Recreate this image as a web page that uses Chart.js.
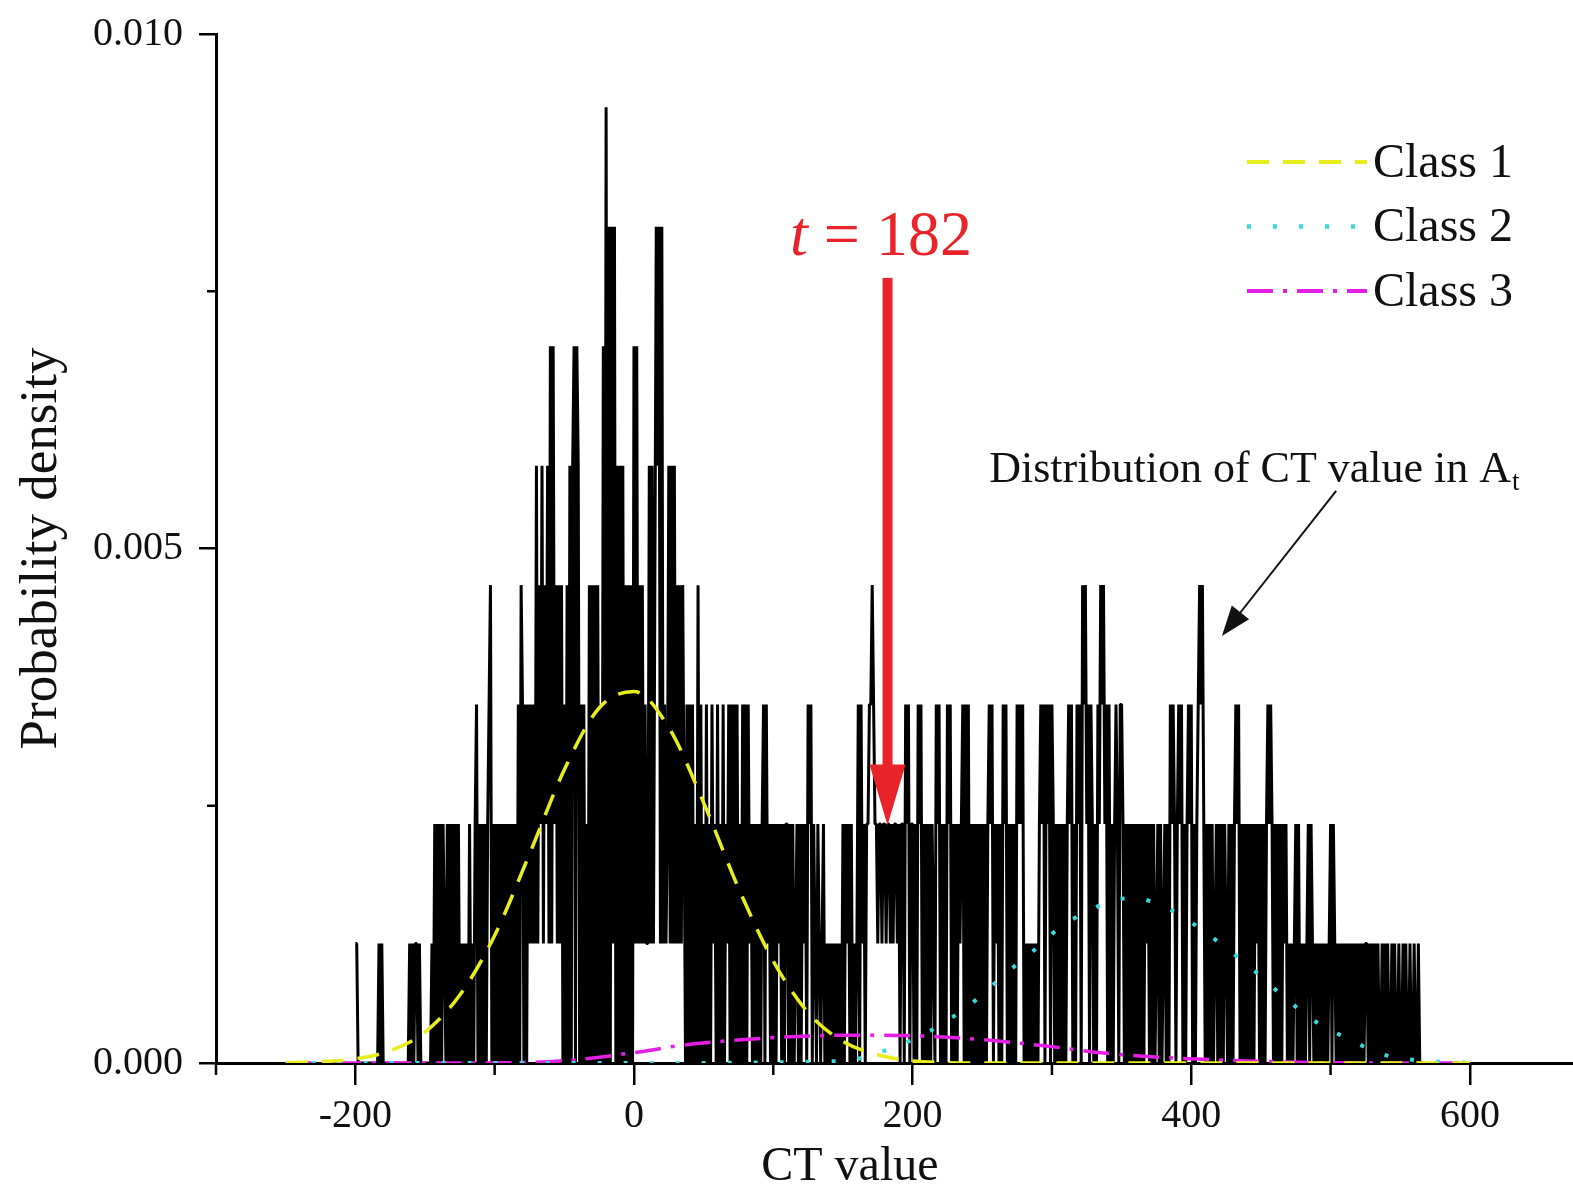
<!DOCTYPE html>
<html>
<head>
<meta charset="utf-8">
<script src="https://cdn.jsdelivr.net/npm/chart.js@4.4.1/dist/chart.umd.min.js"></script>
<style>
  html, body { margin: 0; padding: 0; background: #fff; }
</style>
</head>
<body>
<canvas id="chart" width="1573" height="1190"></canvas>
<script>
// histogram: count of pixels per integer CT value, starting at -200
const histStartCT = -200;
const densityPerCount = 0.001161;
const histCounts = [
  1,1,0,0,0,0,0,0,0,0, // -200
  0,0,0,0,0,0,0,1,0,1, // -190
  0,0,0,0,0,0,0,0,0,0, // -180
  0,0,0,0,0,0,0,0,0,1, // -170
  0,1,0,1,1,0,1,0,0,0, // -160
  0,0,0,0,0,1,0,2,0,2, // -150
  0,2,0,2,1,0,2,0,2,0, // -140
  2,0,2,0,2,0,1,0,1,0, // -130
  1,0,2,0,1,0,2,3,0,2, // -120
  0,2,0,2,0,2,3,4,0,2, // -110
  0,2,0,2,0,2,0,2,0,2, // -100
  0,2,0,2,0,2,0,3,0,4, // -90
  3,0,3,0,3,1,3,1,3,1, // -80
  5,1,4,2,5,1,4,2,5,1, // -70
  6,1,6,2,4,1,4,1,4,0, // -60
  3,0,4,0,5,0,5,6,0,6, // -50
  5,0,3,0,3,0,2,0,4,0, // -40
  4,0,4,0,4,0,3,0,6,0, // -30
  8,0,7,0,7,1,7,0,5,0, // -20
  5,0,5,0,4,0,4,0,4,0, // -10
  6,1,6,1,4,1,4,1,3,1, // 0
  1,5,1,5,1,4,7,5,7,1, // 10
  7,1,3,1,2,5,1,5,1,5, // 20
  1,4,1,4,1,4,2,0,3,0, // 30
  3,0,3,0,2,0,4,0,3,0, // 40
  2,0,3,0,2,0,3,1,2,0, // 50
  3,0,2,0,3,0,2,1,3,0, // 60
  3,0,3,0,3,0,2,0,3,0, // 70
  3,0,3,1,2,0,2,0,2,0, // 80
  2,0,2,3,0,3,1,2,0,2, // 90
  0,2,0,2,1,2,0,2,0,2, // 100
  2,0,2,0,2,0,1,2,0,2, // 110
  0,2,1,2,0,3,2,3,0,2, // 120
  1,0,2,1,0,1,2,0,1,0, // 130
  1,0,1,0,1,0,1,0,1,0, // 140
  2,0,2,1,2,0,2,0,1,0, // 150
  1,3,0,3,1,2,0,2,2,3, // 160
  3,4,3,2,2,1,2,2,1,2, // 170
  2,1,2,2,1,2,1,2,2,1, // 180
  2,0,2,2,0,3,2,3,0,2, // 190
  2,0,2,0,3,2,3,0,2,0, // 200
  2,0,2,0,2,1,0,3,2,3, // 210
  0,2,0,2,0,3,2,3,0,2, // 220
  0,2,0,2,1,2,3,0,3,0, // 230
  3,0,2,0,2,0,2,0,2,0, // 240
  2,0,2,0,2,3,2,3,0,2, // 250
  1,2,0,2,0,3,2,3,0,2, // 260
  0,2,0,2,0,3,2,3,2,3, // 270
  0,1,0,1,0,1,0,1,0,1, // 280
  0,2,3,2,3,0,3,2,3,0, // 290
  3,2,0,2,0,2,0,2,0,2, // 300
  0,2,3,2,3,0,2,0,3,2, // 310
  3,0,4,3,4,2,3,0,3,2, // 320
  0,2,0,3,2,4,3,4,2,3, // 330
  0,3,0,2,0,2,3,2,0,3, // 340
  3,2,0,2,0,2,0,2,0,2, // 350
  0,2,0,2,0,2,0,2,1,2, // 360
  0,2,0,2,0,1,2,0,2,0, // 370
  1,2,0,2,0,3,2,3,2,0, // 380
  2,3,2,3,0,2,0,2,3,2, // 390
  3,0,2,0,2,3,4,3,4,2, // 400
  0,2,0,2,0,2,0,1,2,0, // 410
  2,0,2,0,2,1,0,2,0,2, // 420
  0,2,3,2,3,0,2,0,2,0, // 430
  2,0,2,0,2,0,2,1,2,0, // 440
  2,0,2,0,2,3,2,3,2,0, // 450
  2,0,2,0,2,0,2,1,2,0, // 460
  1,0,1,0,1,2,0,2,0,1, // 470
  0,1,0,1,2,0,2,1,0,1, // 480
  0,1,0,1,0,1,0,1,0,1, // 490
  2,0,2,1,0,1,0,1,0,1, // 500
  0,1,0,1,0,1,0,1,0,1, // 510
  0,1,0,1,0,1,1,0,1,0, // 520
  1,0,1,0,1,0,0,1,0,1, // 530
  0,1,0,0,1,0,1,0,0,1, // 540
  0,0,1,0,1,0,0,1,0,0, // 550
  1,0,0,1,0,0,0        // 560
];

// fitted class curves
const class1CT = [-250, -200, -175, -150, -125, -100, -75, -50, -25, 0, 25, 50, 75, 100, 125, 150, 175, 200, 250, 400, 600];
const class1Density = [0, 0.00004, 0.00012, 0.0003, 0.00066, 0.00124, 0.00203, 0.00285, 0.00345, 0.00361, 0.00326, 0.00253, 0.0017, 0.00099, 0.00049, 0.00021, 0.00008, 0.00002, 0, 0, 0];

const class2CT = [-250, 0, 150, 180, 208, 227, 248, 266, 285, 306, 328, 346, 356, 366, 385, 405, 445, 471, 493, 512, 536, 560, 600];
const class2Density = [0, 0, 0.00002, 0.00012, 0.00028, 0.00043, 0.00064, 0.00086, 0.00107, 0.00132, 0.00149, 0.00159, 0.0016, 0.00159, 0.00149, 0.00132, 0.0009, 0.00059, 0.00037, 0.00024, 0.00009, 0.00003, 0];

const class3CT = [-250, -120, -53, 5, 33, 62, 105, 156, 213, 256, 299, 335, 371, 442, 520, 600];
const class3Density = [0, 0, 0.00002, 0.00011, 0.00017, 0.00021, 0.00025, 0.00027, 0.00026, 0.00022, 0.00016, 0.0001, 0.00006, 0.00002, 0, 0];

const xTickValues = [-200, 0, 200, 400, 600];
const xMinorTickValues = [-300, -100, 100, 300, 500];
const yTickValues = [0, 0.005, 0.010];
const yMinorTickValues = [0.0025, 0.0075];

const thresholdCT = 182;
const xTitle = 'CT value';

const toPoints = (xs, ys) => xs.map((v, i) => ({ x: v, y: ys[i] }));
const histPoints = histCounts.map((c, i) => ({ x: histStartCT + i, y: c * densityPerCount }));

const serif = "'Liberation Serif', 'DejaVu Serif', serif";
Chart.defaults.font.family = serif;
Chart.defaults.color = '#111';

const overlay = {
  id: 'overlay',
  afterDraw(chart) {
    const { ctx, chartArea, scales: { x, y } } = chart;
    ctx.save();

    // minor ticks
    ctx.strokeStyle = '#000';
    ctx.lineWidth = 2.5;
    xMinorTickValues.forEach(v => {
      const px = x.getPixelForValue(v);
      ctx.beginPath();
      ctx.moveTo(px, chartArea.bottom);
      ctx.lineTo(px, chartArea.bottom + 12);
      ctx.stroke();
    });
    yMinorTickValues.forEach(v => {
      const py = y.getPixelForValue(v);
      ctx.beginPath();
      ctx.moveTo(chartArea.left, py);
      ctx.lineTo(chartArea.left - 9, py);
      ctx.stroke();
    });

    // x axis title (sits left of the axis centre in the original)
    ctx.fillStyle = '#111';
    ctx.font = '48px ' + serif;
    ctx.textAlign = 'center';
    ctx.textBaseline = 'alphabetic';
    ctx.fillText(xTitle, x.getPixelForValue(155), chartArea.bottom + 117);

    // red threshold arrow
    const red = '#e8242a';
    const ax = x.getPixelForValue(thresholdCT);
    const aTop = y.getPixelForValue(0.00763);
    const aBase = y.getPixelForValue(0.0029);
    const aTip = y.getPixelForValue(0.00231);
    ctx.fillStyle = red;
    ctx.fillRect(ax - 5, aTop, 10, aBase - aTop + 2);
    ctx.beginPath();
    ctx.moveTo(ax - 18, aBase);
    ctx.lineTo(ax + 18, aBase);
    ctx.lineTo(ax, aTip);
    ctx.closePath();
    ctx.fill();

    // "t = 182"
    const tx = x.getPixelForValue(112);
    const ty = y.getPixelForValue(0.00785);
    ctx.textAlign = 'left';
    ctx.font = 'italic 64px ' + serif;
    ctx.fillText('t', tx, ty);
    const tw = ctx.measureText('t').width;
    ctx.font = '64px ' + serif;
    ctx.fillText(' = ' + thresholdCT, tx + tw, ty);

    // distribution annotation
    ctx.fillStyle = '#111';
    const dx = x.getPixelForValue(255);
    const dy = y.getPixelForValue(0.00565);
    ctx.font = '44px ' + serif;
    const label = 'Distribution of CT value in A';
    ctx.fillText(label, dx, dy);
    const lw = ctx.measureText(label).width;
    ctx.font = '27px ' + serif;
    ctx.fillText('t', dx + lw + 1, dy + 8);

    // black arrow
    const bx0 = x.getPixelForValue(504), by0 = y.getPixelForValue(0.00556);
    const bx1 = x.getPixelForValue(422), by1 = y.getPixelForValue(0.00415);
    const ang = Math.atan2(by1 - by0, bx1 - bx0);
    ctx.strokeStyle = '#111';
    ctx.lineWidth = 2;
    ctx.beginPath();
    ctx.moveTo(bx0, by0);
    ctx.lineTo(bx1 - 20 * Math.cos(ang), by1 - 20 * Math.sin(ang));
    ctx.stroke();
    ctx.beginPath();
    ctx.moveTo(bx1, by1);
    ctx.lineTo(bx1 - 30 * Math.cos(ang) + 11 * Math.sin(ang), by1 - 30 * Math.sin(ang) - 11 * Math.cos(ang));
    ctx.lineTo(bx1 - 30 * Math.cos(ang) - 11 * Math.sin(ang), by1 - 30 * Math.sin(ang) + 11 * Math.cos(ang));
    ctx.closePath();
    ctx.fillStyle = '#111';
    ctx.fill();

    // legend
    const legendSets = chart.data.datasets.filter(d => d.label !== 'hist');
    legendSets.forEach((d, i) => {
      const ly = chartArea.top + 128 + i * 64.5;
      const lx0 = chartArea.right - 326, lx1 = chartArea.right - 206;
      ctx.strokeStyle = d.borderColor;
      ctx.lineWidth = d.borderWidth + 0.5;
      ctx.setLineDash(d.borderDash);
      ctx.beginPath();
      ctx.moveTo(lx0, ly);
      ctx.lineTo(lx1, ly);
      ctx.stroke();
      ctx.setLineDash([]);
      ctx.fillStyle = '#111';
      ctx.font = '48px ' + serif;
      ctx.textBaseline = 'middle';
      ctx.fillText(d.label, chartArea.right - 200, ly + 2);
    });
    ctx.restore();
  }
};

new Chart(document.getElementById('chart'), {
  type: 'line',
  data: {
    datasets: [
      {
        label: 'hist',
        data: histPoints,
        borderColor: '#000',
        borderWidth: 3,
        pointRadius: 0,
        tension: 0,
        borderJoinStyle: 'bevel',
        order: 10,
      },
      {
        label: 'Class 1',
        data: toPoints(class1CT, class1Density),
        borderColor: '#e8ee1c',
        borderWidth: 3.5,
        borderDash: [22, 14],
        pointRadius: 0,
        cubicInterpolationMode: 'monotone',
        order: 1,
      },
      {
        label: 'Class 2',
        data: toPoints(class2CT, class2Density),
        borderColor: '#3ad8d8',
        borderWidth: 4,
        borderDash: [4, 22],
        pointRadius: 0,
        cubicInterpolationMode: 'monotone',
        order: 2,
      },
      {
        label: 'Class 3',
        data: toPoints(class3CT, class3Density),
        borderColor: '#e51ee5',
        borderWidth: 3.5,
        borderDash: [26, 10, 4, 10],
        pointRadius: 0,
        cubicInterpolationMode: 'monotone',
        order: 3,
      },
    ],
  },
  options: {
    responsive: false,
    animation: false,
    layout: { padding: { top: 34, right: 0, left: 0, bottom: 0 } },
    plugins: {
      legend: { display: false },
      tooltip: { enabled: false },
    },
    scales: {
      x: {
        type: 'linear',
        min: -300,
        max: 674,
        afterBuildTicks: axis => { axis.ticks = xTickValues.map(v => ({ value: v })); },
        afterFit: scale => { scale.height = 127; scale.paddingLeft = 0; scale.paddingRight = 0; },
        border: { display: true, color: '#000', width: 3 },
        grid: { drawOnChartArea: false, drawTicks: true, tickLength: 22, color: '#000', lineWidth: 2.5 },
        ticks: { font: { size: 40 }, color: '#111', padding: 7, maxRotation: 0, callback: v => String(v) },
        title: { display: false },
      },
      y: {
        type: 'linear',
        min: 0,
        max: 0.010,
        afterBuildTicks: axis => { axis.ticks = yTickValues.map(v => ({ value: v })); },
        afterFit: scale => { scale.width = 216; scale.paddingTop = 0; scale.paddingBottom = 0; },
        border: { display: true, color: '#000', width: 3 },
        grid: { drawOnChartArea: false, drawTicks: true, tickLength: 17, color: '#000', lineWidth: 2.5 },
        ticks: { font: { size: 40 }, color: '#111', padding: 16, callback: v => v.toFixed(3) },
        title: { display: true, text: 'Probability density', font: { size: 53, lineHeight: 1 }, color: '#111', padding: { top: 16, bottom: 0 } },
      },
    },
  },
  plugins: [overlay],
});
</script>
</body>
</html>
